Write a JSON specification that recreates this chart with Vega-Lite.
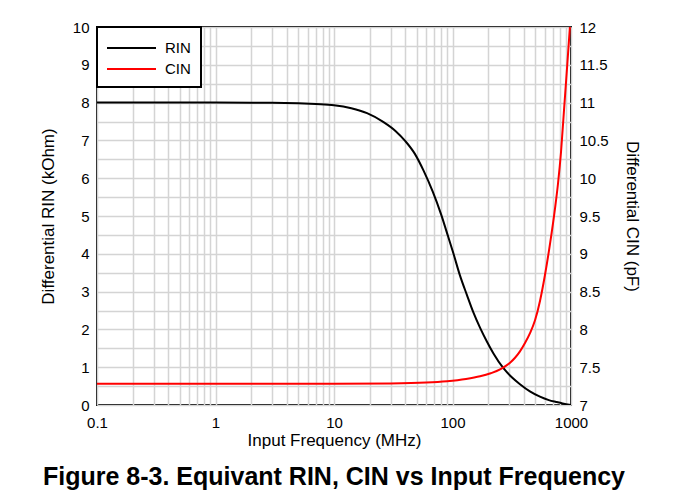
{
  "$schema": "https://vega.github.io/schema/vega-lite/v6.json",
  "width": 474,
  "height": 378,
  "autosize": "none",
  "padding": {"left": 97, "top": 27, "right": 103, "bottom": 97},
  "background": "white",
  "title": {
    "text": "Figure 8-3. Equivant RIN, CIN vs Input Frequency",
    "orient": "bottom",
    "anchor": "middle",
    "font": "Liberation Sans",
    "fontSize": 25,
    "fontWeight": "bold",
    "color": "black",
    "offset": 17
  },
  "datasets": {
    "rin": [
      {"f": 0.1, "series": "RIN", "value": 8.0},
      {"f": 1, "series": "RIN", "value": 8.0},
      {"f": 3, "series": "RIN", "value": 7.995},
      {"f": 5, "series": "RIN", "value": 7.98},
      {"f": 7, "series": "RIN", "value": 7.96},
      {"f": 10, "series": "RIN", "value": 7.93},
      {"f": 14, "series": "RIN", "value": 7.85},
      {"f": 19, "series": "RIN", "value": 7.72},
      {"f": 26, "series": "RIN", "value": 7.49},
      {"f": 33, "series": "RIN", "value": 7.25},
      {"f": 40, "series": "RIN", "value": 6.98},
      {"f": 48, "series": "RIN", "value": 6.65},
      {"f": 57, "series": "RIN", "value": 6.2},
      {"f": 68, "series": "RIN", "value": 5.65},
      {"f": 80, "series": "RIN", "value": 5.05},
      {"f": 92, "series": "RIN", "value": 4.45},
      {"f": 102, "series": "RIN", "value": 4.0},
      {"f": 115, "series": "RIN", "value": 3.45},
      {"f": 132, "series": "RIN", "value": 2.92},
      {"f": 150, "series": "RIN", "value": 2.45},
      {"f": 171, "series": "RIN", "value": 2.04},
      {"f": 195, "series": "RIN", "value": 1.68},
      {"f": 221, "series": "RIN", "value": 1.37},
      {"f": 268, "series": "RIN", "value": 0.98},
      {"f": 320, "series": "RIN", "value": 0.72},
      {"f": 371, "series": "RIN", "value": 0.55},
      {"f": 450, "series": "RIN", "value": 0.36},
      {"f": 547, "series": "RIN", "value": 0.22},
      {"f": 650, "series": "RIN", "value": 0.13},
      {"f": 750, "series": "RIN", "value": 0.08},
      {"f": 850, "series": "RIN", "value": 0.04},
      {"f": 1000, "series": "RIN", "value": 0.0}
    ],
    "cin": [
      {"f": 0.1, "series": "CIN", "value": 7.28},
      {"f": 1, "series": "CIN", "value": 7.28},
      {"f": 10, "series": "CIN", "value": 7.282},
      {"f": 30, "series": "CIN", "value": 7.286},
      {"f": 60, "series": "CIN", "value": 7.297},
      {"f": 90, "series": "CIN", "value": 7.315},
      {"f": 130, "series": "CIN", "value": 7.345},
      {"f": 171, "series": "CIN", "value": 7.38},
      {"f": 210, "series": "CIN", "value": 7.42},
      {"f": 252, "series": "CIN", "value": 7.47},
      {"f": 277, "series": "CIN", "value": 7.51},
      {"f": 306, "series": "CIN", "value": 7.56},
      {"f": 337, "series": "CIN", "value": 7.625},
      {"f": 371, "series": "CIN", "value": 7.71},
      {"f": 409, "series": "CIN", "value": 7.82},
      {"f": 451, "series": "CIN", "value": 7.95},
      {"f": 497, "series": "CIN", "value": 8.12},
      {"f": 548, "series": "CIN", "value": 8.38},
      {"f": 603, "series": "CIN", "value": 8.72},
      {"f": 665, "series": "CIN", "value": 9.13},
      {"f": 733, "series": "CIN", "value": 9.6},
      {"f": 777, "series": "CIN", "value": 9.93},
      {"f": 824, "series": "CIN", "value": 10.35},
      {"f": 873, "series": "CIN", "value": 10.9},
      {"f": 925, "series": "CIN", "value": 11.45},
      {"f": 981, "series": "CIN", "value": 12.02}
    ]
  },
  "config": {
    "view": {"stroke": "black", "strokeWidth": 2},
    "font": "Liberation Sans",
    "axis": {
      "labelFont": "Liberation Sans",
      "labelFontSize": 15,
      "labelColor": "black",
      "titleFont": "Liberation Sans",
      "titleFontSize": 17,
      "titleFontWeight": "normal",
      "titleColor": "black",
      "ticks": false,
      "domain": false,
      "gridColor": "#d4d4d4",
      "gridWidth": 1.5,
      "gridOpacity": 1,
      "labelOverlap": false
    }
  },
  "encoding": {
    "x": {
      "field": "f",
      "type": "quantitative",
      "scale": {"type": "log", "domain": [0.1, 1000], "nice": false},
      "axis": {
        "title": "Input Frequency (MHz)",
        "values": [0.1, 0.2, 0.3, 0.4, 0.5, 0.6, 0.7, 0.8, 0.9, 1, 2, 3, 4, 5, 6, 7, 8, 9, 10, 20, 30, 40, 50, 60, 70, 80, 90, 100, 200, 300, 400, 500, 600, 700, 800, 900, 1000],
        "labelExpr": "indexof([0.1, 1, 10, 100, 1000], datum.value) >= 0 ? format(datum.value, '~g') : ''",
        "labelPadding": 10,
        "titlePadding": 2,
        "labelFlush": false
      }
    },
    "color": {
      "field": "series",
      "type": "nominal",
      "scale": {"domain": ["RIN", "CIN"], "range": ["#000000", "#ff0000"]},
      "legend": {
        "title": null,
        "orient": "top-left",
        "offset": 0,
        "padding": 10,
        "rowPadding": 2,
        "fillColor": "white",
        "strokeColor": "black",
        "symbolType": "M-1.1,0H3.8",
        "symbolSize": 400,
        "symbolStrokeWidth": 2,
        "labelOffset": 36,
        "labelFontSize": 15,
        "labelFont": "Liberation Sans",
        "labelColor": "black",
        "encode": {"legend": {"update": {"strokeWidth": {"value": 2}}}}
      }
    }
  },
  "layer": [
    {
      "data": {"name": "rin"},
      "mark": {"type": "line", "strokeWidth": 2, "interpolate": "monotone", "clip": true},
      "encoding": {
        "y": {
          "field": "value",
          "type": "quantitative",
          "scale": {"domain": [0, 10], "nice": false},
          "axis": {
            "title": "Differential RIN (kOhm)",
            "orient": "left",
            "values": [0, 0.5, 1, 1.5, 2, 2.5, 3, 3.5, 4, 4.5, 5, 5.5, 6, 6.5, 7, 7.5, 8, 8.5, 9, 9.5, 10],
            "labelExpr": "datum.value % 1 == 0 ? format(datum.value, 'd') : ''",
            "labelPadding": 8,
            "titlePadding": 15
          }
        }
      }
    },
    {
      "data": {"name": "cin"},
      "mark": {"type": "line", "strokeWidth": 2, "interpolate": "monotone", "clip": true},
      "encoding": {
        "y": {
          "field": "value",
          "type": "quantitative",
          "scale": {"domain": [7, 12], "nice": false},
          "axis": {
            "title": "Differential CIN (pF)",
            "orient": "right",
            "grid": false,
            "values": [7, 7.5, 8, 8.5, 9, 9.5, 10, 10.5, 11, 11.5, 12],
            "format": "~g",
            "labelPadding": 8,
            "titlePadding": 14
          }
        }
      }
    }
  ],
  "resolve": {"scale": {"y": "independent"}}
}
